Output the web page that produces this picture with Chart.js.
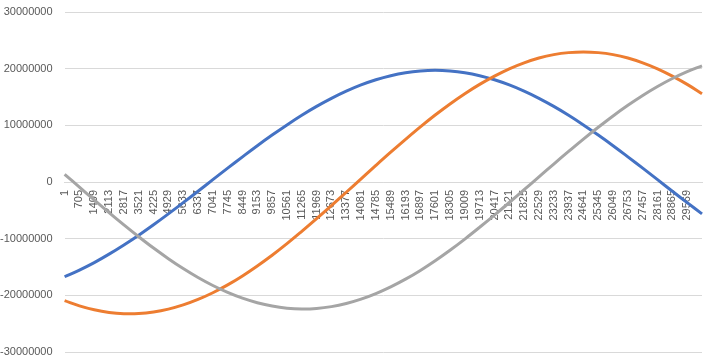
<!DOCTYPE html>
<html>
<head>
<meta charset="utf-8">
<script src="https://cdn.jsdelivr.net/npm/chart.js@4/dist/chart.umd.min.js"></script>
<style>
  html, body { margin: 0; padding: 0; background: #fff; }
  #wrap { width: 709px; height: 361px; position: relative; }
</style>
</head>
<body>
<div id="wrap"><canvas id="lineChart"></canvas></div>
<script>
// category labels (every 704th row), last slot is the end of the data
var labels = ['1', '705', '1409', '2113', '2817', '3521', '4225', '4929', '5633', '6337',
    '7041', '7745', '8449', '9153', '9857', '10561', '11265', '11969', '12673', '13377',
    '14081', '14785', '15489', '16193', '16897', '17601', '18305', '19009', '19713', '20417',
    '21121', '21825', '22529', '23233', '23937', '24641', '25345', '26049', '26753', '27457',
    '28161', '28865', '29569', '']

var series1 = [-16720000, -15540000, -14220000, -12730000, -11110000, -9380000, -7540000, -5620000,
    -3640000, -1630000, 410000, 2440000, 4440000, 6400000, 8280000, 10080000, 11780000, 13340000,
    14760000, 16030000, 17130000, 18040000, 18760000, 19280000, 19590000, 19700000, 19590000,
    19280000, 18760000, 18040000, 17130000, 16030000, 14760000, 13340000, 11780000, 10080000,
    8280000, 6400000, 4440000, 2440000, 410000, -1630000, -3640000, -5620000]

var series2 = [-20930000, -21860000, -22550000, -23010000, -23230000, -23210000, -22940000, -22430000,
    -21690000, -20720000, -19540000, -18150000, -16570000, -14810000, -12920000, -10880000, -8710000,
    -6470000, -4160000, -1810000, 560000, 2930000, 5260000, 7530000, 9730000, 11820000, 13780000,
    15590000, 17230000, 18690000, 19980000, 21030000, 21880000, 22480000, 22830000, 22950000,
    22830000, 22480000, 21880000, 21030000, 19980000, 18690000, 17230000, 15590000]

var series3 = [1360000, -910000, -3170000, -5400000, -7570000, -9660000, -11660000, -13530000,
    -15270000, -16850000, -18260000, -19480000, -20500000, -21300000, -21890000, -22260000, -22400000,
    -22310000, -21990000, -21440000, -20670000, -19690000, -18510000, -17150000, -15600000, -13890000,
    -12040000, -10070000, -7990000, -5840000, -3620000, -1360000, 910000, 3170000, 5390000, 7570000,
    9660000, 11660000, 13530000, 15270000, 16850000, 18260000, 19480000, 20500000]

var yTicks = [-30000000, 30000000, 10000000]   // min, max, step

var textColor = '#595959'
var gridColor = '#d9d9d9'
var font = { family: 'Liberation Sans, Arial, sans-serif', size: 11 }

function lineSet(data, color, order) {
    return {
        data: data,
        borderColor: color,
        backgroundColor: color,
        borderWidth: 3,
        pointRadius: 0,
        tension: 0.4,
        fill: false,
        order: order
    }
}

// rotated labels ask for side padding the excel chart doesn't have
function noPadding(scale) {
    scale.paddingLeft = 0
    scale.paddingRight = 0
    scale.paddingTop = 0
    scale.paddingBottom = 0
}

// chart.js counts tick padding twice in the axis width, and adds it above/below
function fitY(scale) {
    scale.width -= scale.options.ticks.padding
    scale.paddingTop = 0
    scale.paddingBottom = 0
}

var ctx = document.getElementById('lineChart').getContext('2d')
new Chart(ctx, {
    type: 'line',
    data: {
        labels: labels,
        datasets: [
            lineSet(series1, '#4472c4', 2),
            lineSet(series2, '#ed7d31', 1),
            lineSet(series3, '#a5a5a5', 0)
        ]
    },
    options: {
        responsive: true,
        maintainAspectRatio: false,
        animation: false,
        layout: { padding: { top: 12, right: 7, bottom: 9, left: 0 } },
        plugins: {
            legend: { display: false },
            tooltip: { enabled: false }
        },
        scales: {
            x: {
                type: 'category',
                position: { y: 0 },
                offset: false,
                afterFit: noPadding,
                grid: { display: false, drawTicks: false },
                border: { display: true, color: gridColor, width: 1 },
                ticks: {
                    autoSkip: false,
                    minRotation: 90,
                    maxRotation: 90,
                    padding: 8,
                    color: textColor,
                    font: font
                }
            },
            y: {
                min: yTicks[0],
                max: yTicks[1],
                afterFit: fitY,
                grid: { color: gridColor, lineWidth: 1, drawTicks: false },
                border: { display: false },
                ticks: {
                    stepSize: yTicks[2],
                    padding: 12,
                    color: textColor,
                    font: font,
                    callback: function (v) { return String(v) }
                }
            }
        }
    }
})
</script>
</body>
</html>
